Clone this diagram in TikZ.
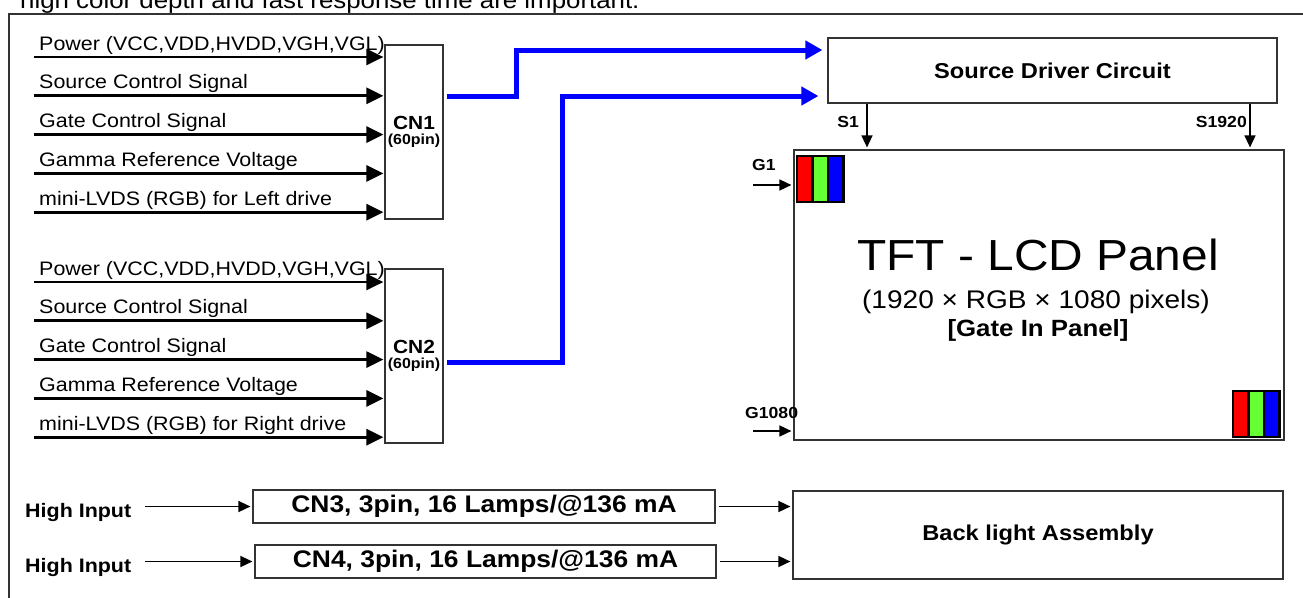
\documentclass[tikz,border=0pt]{standalone}
\usepackage{fontspec}
\setmainfont{Liberation Sans}[FakeStretch=1.1]
\usetikzlibrary{arrows.meta,positioning}
\definecolor{edge}{HTML}{333333}
\definecolor{bus}{HTML}{0000FF}
\definecolor{subred}{HTML}{FF0000}
\definecolor{subgreen}{HTML}{66FF33}
\definecolor{subblue}{HTML}{0000FF}
\newcommand\fsz[1]{\fontsize{#1}{#1}\selectfont}

\begin{document}
\begin{tikzpicture}[x=1pt,y=-1pt,
    blk/.style={draw=edge,line width=1.2pt,inner sep=0pt,align=center},
    sig/.style={line width=2.8pt,shorten >=1pt,-{Triangle[length=17pt,width=16pt]}},
    tap/.style={line width=1.6pt,shorten >=2pt,-{Triangle[length=12pt,width=11pt]}},
    feed/.style={bus,line width=5pt,-{Triangle[length=17pt,width=18pt]}},
    lab/.style={anchor=base west,inner sep=0pt,font=\fsz{19.5}},
    tag/.style={inner sep=0pt,font=\fsz{16}\bfseries}]
  \useasboundingbox (0,0) rectangle (1303,597);
  % page text and outer frame
  \node[anchor=base west,inner sep=0pt,font=\fsz{23.5}] (note) at (20,9)
    {high color depth and fast response time are important.};
  \draw[edge,line width=1.8pt] (9,620) -- (9,14) -- (1320,14);

  % connectors CN1 / CN2 with their inputs
  \node[blk,minimum width=58pt,minimum height=174pt] (cn1) at (414,132)
    {\fsz{19}\bfseries CN1\\[3pt]\fsz{14.5}\bfseries (60pin)};
  \node[blk,minimum width=58pt,minimum height=174pt] (cn2) at (414,356)
    {\fsz{19}\bfseries CN2\\[3pt]\fsz{14.5}\bfseries (60pin)};
  \foreach \k/\txt in {0/{Power (VCC,VDD,HVDD,VGH,VGL)},1/Source Control Signal,
      2/Gate Control Signal,3/Gamma Reference Voltage,4/mini-LVDS (RGB) for Left drive}{
    \coordinate (a\k) at (34,57+38.8*\k);
    \draw[sig] (a\k) -- (a\k -| cn1.west);
    \node[lab] (la\k) at (39,50+38.8*\k) {\txt};}
  \foreach \k/\txt in {0/{Power (VCC,VDD,HVDD,VGH,VGL)},1/Source Control Signal,
      2/Gate Control Signal,3/Gamma Reference Voltage,4/mini-LVDS (RGB) for Right drive}{
    \coordinate (b\k) at (34,282+38.8*\k);
    \draw[sig] (b\k) -- (b\k -| cn2.west);
    \node[lab] (lb\k) at (39,275+38.8*\k) {\txt};}

  % source driver and panel
  \node[blk,minimum width=449pt,minimum height=65pt,font=\fsz{21.5}\bfseries] (src)
    at (1052.5,70.5) {Source Driver Circuit};
  \node[blk,minimum width=490pt,minimum height=290pt] (panel) at (1039,295) {};
  \node[anchor=base,inner sep=0pt,font=\fsz{43.5}] (title) at (1038,270) {TFT - LCD Panel};
  \node[anchor=base,inner sep=0pt,font=\fsz{25.5}] (res) at (1036,308)
    {(1920 × RGB × 1080 pixels)};
  \node[anchor=base,inner sep=0pt,font=\fsz{23.5}\bfseries] (gip) at (1038,336)
    {[Gate In Panel]};

  \draw[feed] ([xshift=3pt,yshift=36pt]cn1.east) -- ++(70,0)
    |- ([xshift=-5pt,yshift=20.5pt]src.west);
  \draw[feed] ([xshift=3pt,yshift=-6pt]cn2.east) -- ++(116,0)
    |- ([xshift=-9pt,yshift=-25.5pt]src.west);

  \draw[tap] ([xshift=-185.5pt]src.south) coordinate (s1) -- (s1 |- panel.north);
  \draw[tap] ([xshift=197.5pt]src.south) coordinate (sn) -- (sn |- panel.north);
  \node[tag,anchor=base east] (ls1) at (859,127) {S1};
  \node[tag,anchor=base east] (lsn) at (1247,127) {S1920};
  \coordinate (g1) at (753,185);
  \coordinate (gn) at (753,431);
  \draw[tap] (g1) -- (g1 -| panel.west);
  \draw[tap] (gn) -- (gn -| panel.west);
  \node[tag,anchor=base west] (lg1) at (752,170) {G1};
  \node[tag,anchor=base west] (lgn) at (745,418) {G1080};

  % rgb pixels
  \foreach \cx/\cy in {797/156,1233/391}{
    \fill[subred] (\cx,\cy) rectangle ++(15.5,46);
    \fill[subgreen] (\cx+15.5,\cy) rectangle ++(15.5,46);
    \fill[subblue] (\cx+31,\cy) rectangle ++(15.5,46);
    \draw[line width=2.2pt] (\cx,\cy) rectangle ++(46.5,46)
      (\cx+15.5,\cy) -- ++(0,46) (\cx+31,\cy) -- ++(0,46);}

  % back light
  \node[blk,minimum width=462pt,minimum height=33pt,font=\fsz{24}\bfseries] (cn3)
    at (484,506.5) {CN3, 3pin, 16 Lamps/@136 mA};
  \node[blk,minimum width=461pt,minimum height=33pt,font=\fsz{24}\bfseries] (cn4)
    at (485.5,561.5) {CN4, 3pin, 16 Lamps/@136 mA};
  \node[blk,minimum width=490pt,minimum height=88pt,font=\fsz{21.5}\bfseries] (bl)
    at (1038,535) {Back light Assembly};
  \node[anchor=base west,inner sep=0pt,font=\fsz{19.5}\bfseries] (hi1) at (25,517) {High Input};
  \node[anchor=base west,inner sep=0pt,font=\fsz{19.5}\bfseries] (hi2) at (25,572) {High Input};
  \coordinate (h1) at (145,506.5);
  \coordinate (h2) at (145,561.5);
  \draw[tap] (h1) -- (cn3.west);
  \draw[tap] (h2) -- (cn4.west);
  \draw[tap] ([xshift=3pt]cn3.east) -- (cn3.east -| bl.west);
  \draw[tap] ([xshift=3pt]cn4.east) -- (cn4.east -| bl.west);
\end{tikzpicture}
\end{document}
